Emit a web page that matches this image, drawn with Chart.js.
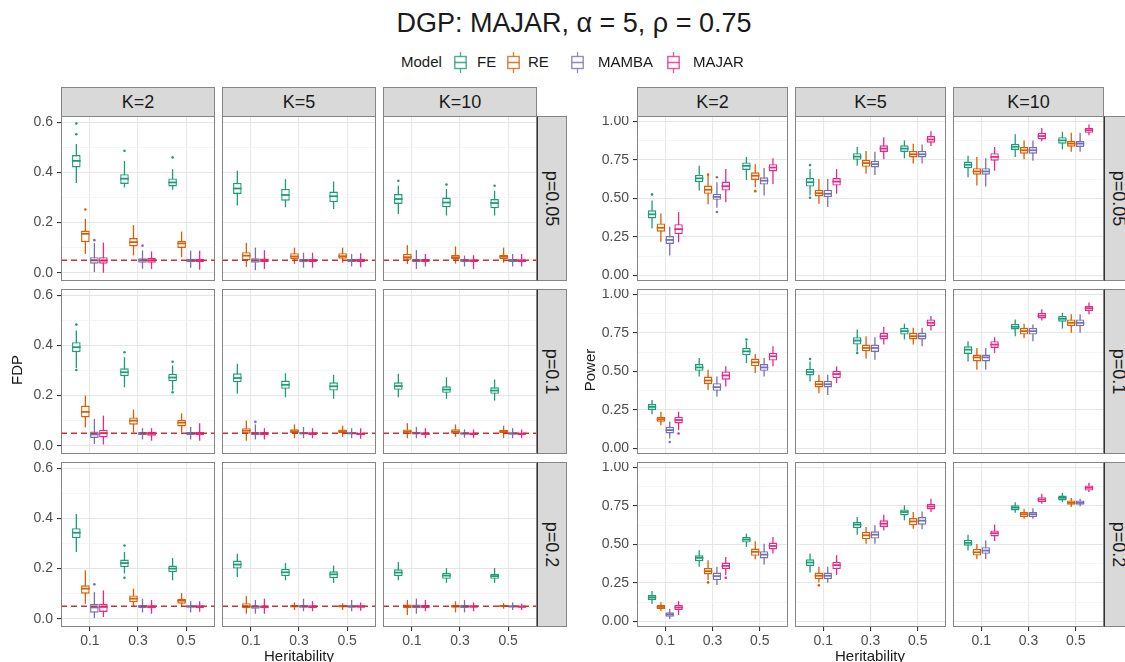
<!DOCTYPE html>
<html>
<head>
<meta charset="utf-8">
<script src="https://cdn.jsdelivr.net/npm/chart.js@4.4.1/dist/chart.umd.min.js"></script>
<style>
  body { margin: 0; background: #fff; font-family: "Liberation Sans", Arial, sans-serif; }
  #page { position: relative; width: 1125px; height: 662px; overflow: hidden; background: #fff; }
  #page canvas { position: absolute; }
  .txt { position: absolute; white-space: nowrap; color: #1a1a1a; }
  .strip { position: absolute; box-sizing: border-box; background: #d9d9d9; border: 1px solid #858585;
           display: flex; align-items: center; justify-content: center; font-size: 18px; color: #1a1a1a; }
  .rowstrip { border-left: 1.5px solid #333; }
  .rowstrip span { display: inline-block; transform: rotate(90deg); white-space: nowrap; }
  .key { position: absolute; }
</style>
</head>
<body>
<div id="page"></div>
<script>
/* ---------- data ---------- */

const MODELS = ["FE", "RE", "MAMBA", "MAJAR"];
const HERITABILITY = ["0.1", "0.3", "0.5"];
const K_LABELS = ["K=2", "K=5", "K=10"];
const P_LABELS = ["p=0.05", "p=0.1", "p=0.2"];
const TARGET_FDR = 0.05;

const FDP_TICKS = [0, 0.2, 0.4, 0.6];
const FDP_TICK_LABELS = ["0.0", "0.2", "0.4", "0.6"];
const FDP_GRID = [0, 0.1, 0.2, 0.3, 0.4, 0.5, 0.6];
const POWER_TICKS = [0, 0.25, 0.5, 0.75, 1];
const POWER_TICK_LABELS = ["0.00", "0.25", "0.50", "0.75", "1.00"];
const POWER_GRID = [0, 0.125, 0.25, 0.375, 0.5, 0.625, 0.75, 0.875, 1];

// each panel: one row per model (FE, RE, MAMBA, MAJAR),
// one box per heritability (0.1, 0.3, 0.5) as [lower whisker, Q1, median, Q3, upper whisker]
const FDP_P005_K2 = [
  [[0.358, 0.420, 0.446, 0.469, 0.513], [0.340, 0.354, 0.375, 0.393, 0.446], [0.331, 0.344, 0.360, 0.376, 0.413]],
  [[0.075, 0.122, 0.155, 0.168, 0.215], [0.069, 0.105, 0.122, 0.138, 0.190], [0.062, 0.099, 0.117, 0.128, 0.164]],
  [[0.003, 0.036, 0.049, 0.062, 0.118], [0.016, 0.040, 0.050, 0.058, 0.089], [0.020, 0.042, 0.048, 0.056, 0.088]],
  [[0.000, 0.036, 0.048, 0.062, 0.120], [0.015, 0.040, 0.050, 0.060, 0.085], [0.012, 0.042, 0.048, 0.056, 0.088]]
];
const FDP_P005_K5 = [
  [[0.268, 0.314, 0.336, 0.358, 0.407], [0.261, 0.287, 0.310, 0.334, 0.373], [0.254, 0.281, 0.305, 0.324, 0.364]],
  [[0.023, 0.049, 0.068, 0.082, 0.119], [0.035, 0.055, 0.065, 0.078, 0.100], [0.040, 0.056, 0.066, 0.078, 0.100]],
  [[0.010, 0.040, 0.049, 0.058, 0.100], [0.020, 0.042, 0.049, 0.055, 0.080], [0.025, 0.043, 0.049, 0.055, 0.075]],
  [[0.015, 0.042, 0.050, 0.057, 0.090], [0.020, 0.043, 0.049, 0.055, 0.080], [0.022, 0.043, 0.049, 0.056, 0.078]]
];
const FDP_P005_K10 = [
  [[0.234, 0.274, 0.294, 0.314, 0.347], [0.228, 0.261, 0.280, 0.300, 0.334], [0.228, 0.257, 0.278, 0.294, 0.327]],
  [[0.035, 0.052, 0.062, 0.075, 0.110], [0.036, 0.053, 0.062, 0.072, 0.105], [0.040, 0.055, 0.064, 0.072, 0.100]],
  [[0.015, 0.042, 0.049, 0.056, 0.090], [0.025, 0.043, 0.049, 0.055, 0.068], [0.025, 0.043, 0.049, 0.055, 0.075]],
  [[0.025, 0.043, 0.049, 0.055, 0.075], [0.015, 0.043, 0.048, 0.054, 0.070], [0.025, 0.043, 0.048, 0.054, 0.075]]
];
const FDP_P01_K2 = [
  [[0.310, 0.373, 0.393, 0.413, 0.460], [0.233, 0.277, 0.293, 0.309, 0.353], [0.220, 0.257, 0.272, 0.287, 0.320]],
  [[0.073, 0.113, 0.135, 0.160, 0.200], [0.053, 0.084, 0.100, 0.113, 0.144], [0.053, 0.077, 0.092, 0.103, 0.129]],
  [[0.007, 0.031, 0.045, 0.057, 0.107], [0.025, 0.043, 0.049, 0.055, 0.070], [0.025, 0.043, 0.049, 0.055, 0.075]],
  [[0.005, 0.033, 0.050, 0.064, 0.120], [0.020, 0.040, 0.048, 0.056, 0.070], [0.020, 0.042, 0.048, 0.055, 0.090]]
];
const FDP_P01_K5 = [
  [[0.207, 0.253, 0.270, 0.289, 0.327], [0.193, 0.227, 0.243, 0.260, 0.289], [0.187, 0.220, 0.237, 0.253, 0.283]],
  [[0.020, 0.048, 0.060, 0.070, 0.100], [0.030, 0.050, 0.058, 0.066, 0.085], [0.035, 0.050, 0.058, 0.065, 0.080]],
  [[0.025, 0.042, 0.049, 0.055, 0.085], [0.030, 0.045, 0.050, 0.055, 0.075], [0.030, 0.045, 0.050, 0.054, 0.070]],
  [[0.025, 0.042, 0.049, 0.055, 0.070], [0.030, 0.043, 0.049, 0.054, 0.070], [0.028, 0.042, 0.047, 0.052, 0.070]]
];
const FDP_P01_K10 = [
  [[0.193, 0.223, 0.238, 0.253, 0.287], [0.187, 0.211, 0.224, 0.237, 0.273], [0.180, 0.207, 0.220, 0.233, 0.264]],
  [[0.030, 0.047, 0.056, 0.065, 0.090], [0.035, 0.048, 0.057, 0.066, 0.085], [0.030, 0.050, 0.057, 0.064, 0.080]],
  [[0.030, 0.045, 0.050, 0.056, 0.075], [0.032, 0.044, 0.049, 0.054, 0.065], [0.030, 0.044, 0.049, 0.054, 0.070]],
  [[0.030, 0.043, 0.048, 0.054, 0.070], [0.030, 0.043, 0.048, 0.053, 0.065], [0.030, 0.043, 0.048, 0.052, 0.065]]
];
const FDP_P02_K2 = [
  [[0.266, 0.321, 0.343, 0.361, 0.418], [0.180, 0.206, 0.222, 0.236, 0.266], [0.153, 0.186, 0.200, 0.212, 0.242]],
  [[0.060, 0.100, 0.120, 0.133, 0.193], [0.050, 0.066, 0.080, 0.093, 0.120], [0.046, 0.060, 0.072, 0.080, 0.102]],
  [[0.003, 0.024, 0.045, 0.060, 0.106], [0.025, 0.043, 0.049, 0.055, 0.080], [0.025, 0.044, 0.049, 0.054, 0.070]],
  [[0.007, 0.027, 0.047, 0.060, 0.113], [0.020, 0.042, 0.048, 0.054, 0.075], [0.028, 0.043, 0.048, 0.054, 0.070]]
];
const FDP_P02_K5 = [
  [[0.166, 0.200, 0.216, 0.232, 0.259], [0.153, 0.170, 0.185, 0.199, 0.222], [0.143, 0.162, 0.177, 0.189, 0.212]],
  [[0.020, 0.042, 0.050, 0.062, 0.090], [0.035, 0.045, 0.050, 0.055, 0.065], [0.035, 0.045, 0.050, 0.055, 0.062]],
  [[0.020, 0.040, 0.048, 0.054, 0.075], [0.030, 0.044, 0.049, 0.055, 0.080], [0.030, 0.044, 0.049, 0.054, 0.075]],
  [[0.020, 0.042, 0.048, 0.053, 0.080], [0.030, 0.043, 0.048, 0.054, 0.070], [0.032, 0.044, 0.049, 0.054, 0.065]]
];
const FDP_P02_K10 = [
  [[0.153, 0.170, 0.184, 0.197, 0.226], [0.143, 0.159, 0.172, 0.183, 0.202], [0.143, 0.159, 0.170, 0.179, 0.202]],
  [[0.015, 0.042, 0.050, 0.057, 0.075], [0.025, 0.044, 0.050, 0.056, 0.070], [0.040, 0.047, 0.051, 0.055, 0.062]],
  [[0.020, 0.042, 0.049, 0.057, 0.080], [0.025, 0.043, 0.049, 0.055, 0.075], [0.035, 0.045, 0.049, 0.054, 0.065]],
  [[0.030, 0.043, 0.049, 0.055, 0.075], [0.030, 0.044, 0.049, 0.054, 0.065], [0.035, 0.044, 0.048, 0.053, 0.060]]
];

const POWER_P005_K2 = [
  [[0.306, 0.370, 0.397, 0.423, 0.487], [0.551, 0.605, 0.630, 0.652, 0.712], [0.620, 0.684, 0.711, 0.733, 0.769]],
  [[0.220, 0.284, 0.310, 0.338, 0.402], [0.462, 0.530, 0.556, 0.583, 0.647], [0.573, 0.620, 0.647, 0.669, 0.722]],
  [[0.130, 0.205, 0.231, 0.256, 0.316], [0.440, 0.491, 0.510, 0.530, 0.605], [0.519, 0.590, 0.615, 0.637, 0.697]],
  [[0.216, 0.269, 0.301, 0.333, 0.412], [0.476, 0.551, 0.579, 0.609, 0.690], [0.594, 0.675, 0.700, 0.722, 0.760]]
];
const POWER_P005_K5 = [
  [[0.519, 0.577, 0.605, 0.632, 0.690], [0.712, 0.750, 0.771, 0.793, 0.833], [0.760, 0.801, 0.823, 0.844, 0.876]],
  [[0.466, 0.513, 0.534, 0.556, 0.626], [0.662, 0.705, 0.729, 0.750, 0.808], [0.726, 0.765, 0.786, 0.808, 0.855]],
  [[0.444, 0.508, 0.530, 0.556, 0.626], [0.652, 0.701, 0.722, 0.744, 0.803], [0.726, 0.765, 0.786, 0.808, 0.850]],
  [[0.530, 0.583, 0.609, 0.632, 0.690], [0.754, 0.801, 0.823, 0.844, 0.897], [0.839, 0.861, 0.882, 0.904, 0.936]]
];
const POWER_P005_K10 = [
  [[0.637, 0.696, 0.718, 0.739, 0.776], [0.769, 0.814, 0.835, 0.855, 0.915], [0.818, 0.855, 0.876, 0.897, 0.932]],
  [[0.583, 0.654, 0.675, 0.696, 0.769], [0.754, 0.790, 0.812, 0.833, 0.876], [0.803, 0.835, 0.855, 0.872, 0.925]],
  [[0.577, 0.654, 0.675, 0.696, 0.760], [0.744, 0.790, 0.812, 0.833, 0.876], [0.803, 0.833, 0.855, 0.872, 0.925]],
  [[0.680, 0.744, 0.769, 0.793, 0.833], [0.870, 0.882, 0.904, 0.925, 0.957], [0.910, 0.925, 0.942, 0.957, 0.979]]
];
const POWER_P01_K2 = [
  [[0.222, 0.250, 0.270, 0.289, 0.315], [0.467, 0.504, 0.526, 0.548, 0.587], [0.554, 0.604, 0.630, 0.652, 0.696]],
  [[0.152, 0.174, 0.191, 0.207, 0.239], [0.380, 0.417, 0.441, 0.467, 0.511], [0.489, 0.533, 0.559, 0.583, 0.613]],
  [[0.065, 0.098, 0.120, 0.141, 0.174], [0.337, 0.374, 0.398, 0.424, 0.467], [0.467, 0.504, 0.526, 0.548, 0.587]],
  [[0.120, 0.163, 0.185, 0.207, 0.239], [0.402, 0.446, 0.474, 0.500, 0.533], [0.533, 0.570, 0.598, 0.620, 0.663]]
];
const POWER_P01_K5 = [
  [[0.435, 0.474, 0.496, 0.517, 0.565], [0.630, 0.674, 0.700, 0.722, 0.772], [0.707, 0.739, 0.761, 0.783, 0.809]],
  [[0.359, 0.396, 0.417, 0.439, 0.478], [0.583, 0.630, 0.652, 0.674, 0.728], [0.674, 0.707, 0.728, 0.750, 0.783]],
  [[0.348, 0.396, 0.417, 0.439, 0.478], [0.576, 0.626, 0.652, 0.674, 0.722], [0.663, 0.707, 0.728, 0.750, 0.783]],
  [[0.424, 0.457, 0.483, 0.504, 0.533], [0.674, 0.707, 0.728, 0.750, 0.787], [0.765, 0.793, 0.815, 0.837, 0.859]]
];
const POWER_P01_K10 = [
  [[0.565, 0.613, 0.641, 0.663, 0.696], [0.728, 0.772, 0.789, 0.809, 0.837], [0.778, 0.822, 0.841, 0.859, 0.880]],
  [[0.511, 0.565, 0.591, 0.609, 0.652], [0.717, 0.739, 0.761, 0.783, 0.809], [0.750, 0.793, 0.815, 0.837, 0.870]],
  [[0.511, 0.565, 0.591, 0.609, 0.652], [0.696, 0.739, 0.761, 0.783, 0.804], [0.750, 0.793, 0.815, 0.837, 0.870]],
  [[0.620, 0.652, 0.674, 0.696, 0.722], [0.830, 0.843, 0.861, 0.880, 0.902], [0.870, 0.891, 0.909, 0.924, 0.946]]
];
const POWER_P02_K2 = [
  [[0.114, 0.140, 0.157, 0.172, 0.198], [0.355, 0.391, 0.413, 0.430, 0.462], [0.484, 0.512, 0.531, 0.548, 0.570]],
  [[0.069, 0.082, 0.095, 0.108, 0.125], [0.269, 0.305, 0.327, 0.348, 0.398], [0.404, 0.426, 0.452, 0.473, 0.520]],
  [[0.017, 0.032, 0.047, 0.060, 0.082], [0.237, 0.269, 0.295, 0.318, 0.355], [0.370, 0.409, 0.434, 0.456, 0.505]],
  [[0.043, 0.075, 0.092, 0.108, 0.133], [0.301, 0.340, 0.361, 0.383, 0.419], [0.441, 0.467, 0.490, 0.512, 0.548]]
];
const POWER_P02_K5 = [
  [[0.318, 0.361, 0.383, 0.404, 0.441], [0.563, 0.606, 0.628, 0.645, 0.677], [0.656, 0.688, 0.710, 0.727, 0.753]],
  [[0.254, 0.275, 0.297, 0.318, 0.355], [0.505, 0.533, 0.559, 0.581, 0.613], [0.602, 0.624, 0.649, 0.671, 0.710]],
  [[0.254, 0.275, 0.297, 0.318, 0.355], [0.505, 0.538, 0.563, 0.585, 0.624], [0.598, 0.628, 0.654, 0.677, 0.714]],
  [[0.301, 0.340, 0.366, 0.387, 0.430], [0.591, 0.613, 0.634, 0.656, 0.692], [0.710, 0.727, 0.746, 0.763, 0.796]]
];
const POWER_P02_K10 = [
  [[0.460, 0.492, 0.510, 0.529, 0.563], [0.705, 0.720, 0.738, 0.753, 0.774], [0.774, 0.785, 0.802, 0.817, 0.834]],
  [[0.406, 0.428, 0.449, 0.471, 0.503], [0.667, 0.677, 0.695, 0.710, 0.731], [0.742, 0.757, 0.770, 0.785, 0.800]],
  [[0.406, 0.439, 0.460, 0.482, 0.525], [0.667, 0.677, 0.695, 0.710, 0.735], [0.748, 0.757, 0.770, 0.785, 0.796]],
  [[0.522, 0.552, 0.573, 0.591, 0.629], [0.763, 0.774, 0.791, 0.806, 0.828], [0.839, 0.849, 0.867, 0.882, 0.899]]
];

// outliers: [p row, K column, model, heritability index, value]
const FDP_OUTLIERS = [
  [0, 0, 0, 0, 0.595], [0, 0, 0, 0, 0.552], [0, 0, 0, 1, 0.486], [0, 0, 0, 2, 0.460],
  [0, 0, 1, 0, 0.252], [0, 0, 2, 0, 0.130], [0, 0, 2, 1, 0.108],
  [0, 2, 0, 0, 0.367], [0, 2, 0, 1, 0.352], [0, 2, 0, 2, 0.347],
  [1, 0, 0, 0, 0.483], [1, 0, 0, 0, 0.302], [1, 0, 0, 1, 0.373], [1, 0, 0, 2, 0.335], [1, 0, 0, 2, 0.213],
  [1, 1, 2, 0, 0.095],
  [2, 0, 2, 0, 0.137], [2, 0, 0, 1, 0.292], [2, 0, 0, 1, 0.163]
];
const POWER_OUTLIERS = [
  [0, 0, 0, 0, 0.526], [0, 0, 1, 1, 0.654], [0, 0, 2, 1, 0.637], [0, 0, 2, 1, 0.412], [0, 0, 1, 2, 0.547],
  [0, 1, 0, 0, 0.716], [0, 1, 0, 0, 0.504],
  [1, 0, 2, 0, 0.043], [1, 0, 3, 0, 0.098], [1, 0, 0, 2, 0.707],
  [1, 1, 0, 0, 0.580], [1, 1, 0, 1, 0.620],
  [2, 0, 1, 1, 0.254], [2, 0, 3, 1, 0.284],
  [2, 1, 1, 0, 0.235]
];

/* ---------- styling / layout ---------- */

const FONT = '"Liberation Sans", Arial, sans-serif';
const COLORS = ["#1b9e77", "#d95f02", "#7570b3", "#e7298a"];

const ROW_TOP = [116, 289, 462];
const PANEL_H = 165;
const AXIS_H = 30;

const GRIDS = [
  {
    name: "FDP", panels: [[FDP_P005_K2, FDP_P005_K5, FDP_P005_K10],
                          [FDP_P01_K2, FDP_P01_K5, FDP_P01_K10],
                          [FDP_P02_K2, FDP_P02_K5, FDP_P02_K10]],
    outliers: FDP_OUTLIERS, ticks: FDP_TICKS, tickLabels: FDP_TICK_LABELS, grid: FDP_GRID,
    yMin: -0.033, yMax: 0.625, refLine: TARGET_FDR,
    colX: [61, 222, 383], panelW: 154, axisW: 61, rowStripX: 537
  },
  {
    name: "Power", panels: [[POWER_P005_K2, POWER_P005_K5, POWER_P005_K10],
                            [POWER_P01_K2, POWER_P01_K5, POWER_P01_K10],
                            [POWER_P02_K2, POWER_P02_K5, POWER_P02_K10]],
    outliers: POWER_OUTLIERS, ticks: POWER_TICKS, tickLabels: POWER_TICK_LABELS, grid: POWER_GRID,
    yMin: -0.035, yMax: 1.034, refLine: null,
    colX: [637, 795, 953], panelW: 151, axisW: 62, rowStripX: 1104
  }
];

Chart.defaults.font.family = FONT;

/* draws whiskers, medians, outliers, the reference line and the panel frame */
const boxplotParts = {
  id: "boxplotParts",
  beforeDatasetsDraw(chart) {
    const ctx = chart.ctx;
    const y = chart.scales.y;
    ctx.save();
    chart.data.datasets.forEach((ds, di) => {
      chart.getDatasetMeta(di).data.forEach((bar, i) => {
        const s = ds.data[i].stats;
        ctx.strokeStyle = ds.borderColor;
        ctx.lineWidth = 1.3;
        ctx.beginPath();
        ctx.moveTo(bar.x, y.getPixelForValue(s[0]));
        ctx.lineTo(bar.x, y.getPixelForValue(s[4]));
        ctx.stroke();
      });
    });
    ctx.restore();
  },
  afterDatasetsDraw(chart, args, opts) {
    const ctx = chart.ctx;
    const y = chart.scales.y;
    const area = chart.chartArea;
    ctx.save();
    chart.data.datasets.forEach((ds, di) => {
      chart.getDatasetMeta(di).data.forEach((bar, i) => {
        const s = ds.data[i].stats;
        const py = y.getPixelForValue(s[2]);
        ctx.strokeStyle = ds.borderColor;
        ctx.lineWidth = 1.8;
        ctx.beginPath();
        ctx.moveTo(bar.x - bar.width / 2, py);
        ctx.lineTo(bar.x + bar.width / 2, py);
        ctx.stroke();
      });
    });
    (opts.outliers || []).forEach(o => {
      const bar = chart.getDatasetMeta(o[0]).data[o[1]];
      ctx.fillStyle = COLORS[o[0]];
      ctx.beginPath();
      ctx.arc(bar.x, y.getPixelForValue(o[2]), 1.3, 0, Math.PI * 2);
      ctx.fill();
    });
    if (opts.refLine != null) {
      const py = y.getPixelForValue(opts.refLine);
      ctx.strokeStyle = "#cf3036";
      ctx.lineWidth = 1.6;
      ctx.setLineDash([6, 4]);
      ctx.beginPath();
      ctx.moveTo(area.left, py);
      ctx.lineTo(area.right, py);
      ctx.stroke();
    }
    ctx.restore();
  },
  afterDraw(chart) {
    const ctx = chart.ctx;
    const a = chart.chartArea;
    ctx.save();
    ctx.strokeStyle = "#858585";
    ctx.lineWidth = 1;
    ctx.strokeRect(a.left + 0.5, a.top + 0.5, a.right - a.left - 1, a.bottom - a.top - 1);
    ctx.restore();
  }
};
Chart.register(boxplotParts);

const page = document.getElementById("page");

function addText(text, css) {
  const d = document.createElement("div");
  d.className = "txt";
  d.textContent = text;
  Object.assign(d.style, css);
  page.appendChild(d);
  return d;
}

function makePanel(g, row, col) {
  const firstCol = col === 0;
  const bottom = row === 2;
  const axW = firstCol ? g.axisW : 0;
  const axH = bottom ? AXIS_H : 0;
  const canvas = document.createElement("canvas");
  const w = g.panelW + axW, h = PANEL_H + axH;
  canvas.width = w; canvas.height = h;
  canvas.style.left = (g.colX[col] - axW) + "px";
  canvas.style.top = ROW_TOP[row] + "px";
  canvas.style.width = w + "px"; canvas.style.height = h + "px";
  page.appendChild(canvas);

  const boxes = g.panels[row][col];
  const outliers = g.outliers
    .filter(o => o[0] === row && o[1] === col)
    .map(o => [o[2], o[3], o[4]]);

  new Chart(canvas, {
    type: "bar",
    data: {
      datasets: MODELS.map((m, mi) => ({
        label: m,
        data: boxes[mi].map((b, hi) => ({ x: hi + 1, y: [b[1], b[3]], stats: b })),
        backgroundColor: "#ffffff",
        borderColor: COLORS[mi],
        borderWidth: 1.4,
        borderSkipped: false,
        categoryPercentage: 0.75,
        barPercentage: 0.95
      }))
    },
    options: {
      responsive: false,
      animation: false,
      devicePixelRatio: 1,
      events: [],
      layout: { padding: 0, autoPadding: false },
      plugins: {
        legend: { display: false },
        tooltip: { enabled: false },
        boxplotParts: { outliers, refLine: g.refLine }
      },
      scales: {
        x: {
          type: "linear",
          min: 0.4,
          max: 3.6,
          offset: false,
          border: { display: false },
          afterBuildTicks: s => { s.ticks = HERITABILITY.map((_, i) => ({ value: i + 1 })); },
          afterFit: s => { s.height = axH; s.paddingLeft = 0; s.paddingRight = 0; },
          grid: {
            offset: false,
            color: "#e8e8e8",
            lineWidth: 1.1,
            drawTicks: bottom,
            tickLength: 4,
            tickColor: "#333333"
          },
          ticks: {
            display: bottom,
            autoSkip: false,
            maxRotation: 0,
            padding: 2,
            color: "#4d4d4d",
            font: { size: 14 },
            callback: v => HERITABILITY[v - 1]
          }
        },
        y: {
          type: "linear",
          min: g.yMin,
          max: g.yMax,
          border: { display: false },
          afterBuildTicks: s => { s.ticks = g.grid.map(v => ({ value: v })); },
          afterFit: s => { s.width = axW; s.paddingTop = 0; s.paddingBottom = 0; },
          grid: {
            color: c => g.ticks.includes(c.tick.value) ? "#e6e6e6" : "#f2f2f2",
            lineWidth: c => g.ticks.includes(c.tick.value) ? 1.1 : 0.8,
            drawTicks: firstCol,
            tickLength: 4,
            tickColor: c => g.ticks.includes(c.tick.value) ? "#333333" : "rgba(0,0,0,0)"
          },
          ticks: {
            display: firstCol,
            autoSkip: false,
            padding: 4,
            color: "#4d4d4d",
            font: { size: 14 },
            callback: v => {
              const i = g.ticks.indexOf(v);
              return i >= 0 ? g.tickLabels[i] : "";
            }
          }
        }
      }
    }
  });
}

function makeStrips(g) {
  K_LABELS.forEach((k, col) => {
    const d = document.createElement("div");
    d.className = "strip";
    Object.assign(d.style, { left: g.colX[col] + "px", top: "87px", width: g.panelW + "px", height: "30px" });
    d.textContent = k;
    page.appendChild(d);
  });
  P_LABELS.forEach((p, row) => {
    const d = document.createElement("div");
    d.className = "strip rowstrip";
    Object.assign(d.style, { left: g.rowStripX + "px", top: ROW_TOP[row] + "px", width: "30px", height: PANEL_H + "px" });
    const s = document.createElement("span");
    s.textContent = p;
    d.appendChild(s);
    page.appendChild(d);
  });
}

GRIDS.forEach(g => {
  makeStrips(g);
  for (let r = 0; r < 3; r++) for (let c = 0; c < 3; c++) makePanel(g, r, c);
});

/* titles and axis labels */
addText("DGP: MAJAR, \u03b1 = 5, \u03c1 = 0.75", { left: "0px", width: "1148px", textAlign: "center", top: "7px", fontSize: "27px", lineHeight: "33px" });
addText("Heritability", { left: "199px", width: "200px", textAlign: "center", top: "646px", fontSize: "15px", lineHeight: "20px" });
addText("Heritability", { left: "770px", width: "200px", textAlign: "center", top: "646px", fontSize: "15px", lineHeight: "20px" });
addText("FDP", { left: "-33px", width: "100px", textAlign: "center", top: "360px", fontSize: "15px", lineHeight: "20px", transform: "rotate(-90deg)" });
addText("Power", { left: "540px", width: "100px", textAlign: "center", top: "360px", fontSize: "15px", lineHeight: "20px", transform: "rotate(-90deg)" });

/* legend */
const LEGEND_KEY_X = [454, 507, 571, 667];
const LEGEND_LABEL_X = [477, 528, 598, 693];
addText("Model", { left: "401px", top: "52px", fontSize: "15px", lineHeight: "20px" });
MODELS.forEach((m, i) => {
  const ns = "http://www.w3.org/2000/svg";
  const svg = document.createElementNS(ns, "svg");
  svg.setAttribute("width", "13");
  svg.setAttribute("height", "21");
  svg.setAttribute("class", "key");
  svg.style.left = LEGEND_KEY_X[i] + "px";
  svg.style.top = "52px";
  svg.innerHTML =
    `<line x1="6.5" y1="0" x2="6.5" y2="4.5" stroke="${COLORS[i]}" stroke-width="1.3" opacity="0.8"/>` +
    `<line x1="6.5" y1="16.5" x2="6.5" y2="21" stroke="${COLORS[i]}" stroke-width="1.3" opacity="0.8"/>` +
    `<rect x="0.8" y="4.5" width="11.4" height="12" fill="#fff" stroke="${COLORS[i]}" stroke-width="1.4" opacity="0.8"/>` +
    `<line x1="0.8" y1="10.5" x2="12.2" y2="10.5" stroke="${COLORS[i]}" stroke-width="1.6" opacity="0.8"/>`;
  page.appendChild(svg);
  addText(m, { left: LEGEND_LABEL_X[i] + "px", top: "52px", fontSize: "15px", lineHeight: "20px" });
});
</script>
</body>
</html>
